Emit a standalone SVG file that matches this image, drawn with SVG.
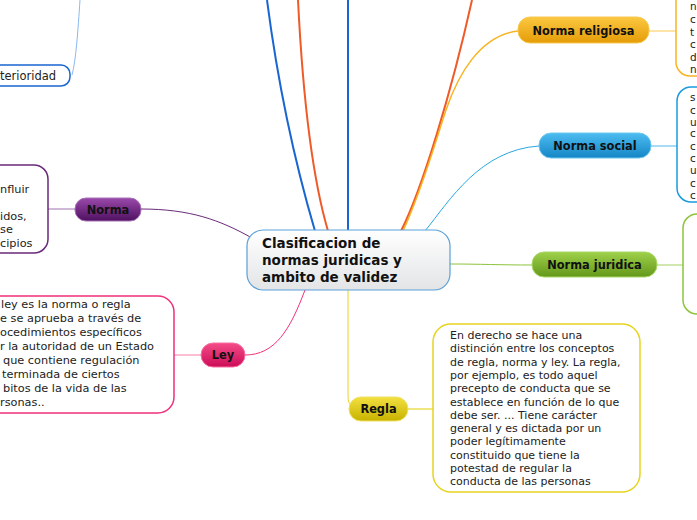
<svg xmlns="http://www.w3.org/2000/svg" width="697" height="520" viewBox="0 0 697 520">
<style>
.t{font-family:"DejaVu Sans",Verdana,sans-serif;font-size:10.5px;fill:#222}
.r{font-size:11px}
.l{font-size:11.3px}
.b{font-family:"DejaVu Sans",Verdana,sans-serif;font-weight:bold;font-size:11.4px;fill:#111;text-anchor:middle}
.c{font-family:"DejaVu Sans",Verdana,sans-serif;font-weight:bold;font-size:13.5px;fill:#111}
.box{fill:#fff;stroke-width:1.5}
.ln{fill:none}
</style>
<defs>
<linearGradient id="gc" x1="0" y1="0" x2="0" y2="1"><stop offset="0" stop-color="#ffffff"/><stop offset="1" stop-color="#e2e4e6"/></linearGradient>
<linearGradient id="go" x1="0" y1="0" x2="0" y2="1"><stop offset="0" stop-color="#fbc840"/><stop offset="1" stop-color="#e59c08"/></linearGradient>
<linearGradient id="gb" x1="0" y1="0" x2="0" y2="1"><stop offset="0" stop-color="#4cbcf0"/><stop offset="1" stop-color="#1486c6"/></linearGradient>
<linearGradient id="gg" x1="0" y1="0" x2="0" y2="1"><stop offset="0" stop-color="#9ed04a"/><stop offset="1" stop-color="#64981a"/></linearGradient>
<linearGradient id="gy" x1="0" y1="0" x2="0" y2="1"><stop offset="0" stop-color="#f2e040"/><stop offset="1" stop-color="#c8b200"/></linearGradient>
<linearGradient id="gp" x1="0" y1="0" x2="0" y2="1"><stop offset="0" stop-color="#f44c88"/><stop offset="1" stop-color="#cc0c58"/></linearGradient>
<linearGradient id="gv" x1="0" y1="0" x2="0" y2="1"><stop offset="0" stop-color="#9a4aaa"/><stop offset="1" stop-color="#4e1060"/></linearGradient>
</defs>
<g id="connectors">
<path class="ln" d="M72,75 C76,60 78,30 80,0" stroke="#8ab8f0" stroke-width="1"/>
<path class="ln" d="M315,231 C300,180 280,100 267,0" stroke="#1a66d0" stroke-width="2"/>
<path class="ln" d="M328,231 C310,170 302,80 298,0" stroke="#f05a28" stroke-width="2"/>
<path class="ln" d="M348,231 L348,0" stroke="#1a66d0" stroke-width="2"/>
<path class="ln" d="M401,231 C422,190 452,90 472,0" stroke="#f05a28" stroke-width="2"/>
<path class="ln" d="M403,231 C422,190 436,140 446,110 C458,75 480,35 518,31" stroke="#f8b420" stroke-width="1.5"/>
<path class="ln" d="M425,231 C450,200 480,150 539,146" stroke="#28a8e0" stroke-width="1"/>
<path class="ln" d="M450,264 C480,264 500,265 532,265" stroke="#8cc43c" stroke-width="1"/>
<path class="ln" d="M252,238 C220,220 190,209 141,209" stroke="#6a2a7a" stroke-width="1"/>
<path class="ln" d="M305,290 C290,330 275,355 245,355" stroke="#f0307a" stroke-width="1"/>
<path class="ln" d="M348,290 L348,395 C348,402 349,404 352,405" stroke="#e8d420" stroke-width="1"/>
<path class="ln" d="M649,31 L676,31" stroke="#fbc850" stroke-width="1"/>
<path class="ln" d="M651,146 L677,146" stroke="#a8dcf4" stroke-width="2"/>
<path class="ln" d="M657,265 L683,265" stroke="#d0e8b0" stroke-width="2"/>
<path class="ln" d="M408,409 L433,409" stroke="#f0e680" stroke-width="2"/>
<path class="ln" d="M48,209 L75,209" stroke="#a070b0" stroke-width="1"/>
<path class="ln" d="M174,355 L201,355" stroke="#f880a8" stroke-width="1"/>
</g>
<g id="node-top-left">
<rect class="box" x="-20" y="65" width="90" height="21" rx="9" stroke="#1a66d0"/>
<text class="t" x="0" y="80" style="font-size:11.5px">terioridad</text>
</g>
<g id="node-center">
<rect x="247" y="230" width="203" height="60" rx="16" fill="url(#gc)" stroke="#5aa0d8" stroke-width="1.2"/>
<text class="c" x="262" y="248">Clasificacion de</text>
<text class="c" x="262" y="265">normas juridicas y</text>
<text class="c" x="262" y="282">ambito de validez</text>
</g>
<g id="node-religiosa">
<rect x="518" y="17" width="131" height="26" rx="12" fill="url(#go)" stroke="#f8c850" stroke-width="1"/>
<text class="b" x="583.5" y="35">Norma religiosa</text>
</g>
<g id="box-religiosa">
<rect class="box" x="676" y="-30" width="60" height="106" rx="14" stroke="#f8b420"/>
<text class="t" x="690" y="10">n</text>
<text class="t" x="690" y="23">c</text>
<text class="t" x="690" y="36">t</text>
<text class="t" x="690" y="48">c</text>
<text class="t" x="690" y="61">d</text>
<text class="t" x="690" y="73">n</text>
</g>
<g id="node-social">
<rect x="539" y="133" width="112" height="25" rx="12" fill="url(#gb)" stroke="#70c8f0" stroke-width="1"/>
<text class="b" x="595" y="150">Norma social</text>
</g>
<g id="box-social">
<rect class="box" x="677" y="87" width="60" height="115" rx="14" stroke="#1a9ae0"/>
<text class="t" x="690" y="101">s</text>
<text class="t" x="690" y="114">c</text>
<text class="t" x="690" y="126">u</text>
<text class="t" x="690" y="137">c</text>
<text class="t" x="690" y="150">c</text>
<text class="t" x="690" y="162">c</text>
<text class="t" x="690" y="174">u</text>
<text class="t" x="690" y="187">c</text>
<text class="t" x="690" y="199">c</text>
</g>
<g id="node-juridica">
<rect x="532" y="252" width="125" height="25" rx="12" fill="url(#gg)" stroke="#a8d868" stroke-width="1"/>
<text class="b" x="594.5" y="269">Norma juridica</text>
</g>
<g id="box-juridica">
<rect class="box" x="683" y="214" width="60" height="100" rx="14" stroke="#8cc43c"/>
</g>
<g id="node-regla">
<rect x="349" y="397" width="59" height="24" rx="12" fill="url(#gy)" stroke="#f0e060" stroke-width="1"/>
<text class="b" x="378.5" y="413">Regla</text>
</g>
<g id="box-regla">
<rect class="box" x="433" y="324" width="207" height="168" rx="18" stroke="#e8d420"/>
<text class="t r" x="450" y="339">En derecho se hace una</text>
<text class="t r" x="450" y="352">distinción entre los conceptos</text>
<text class="t r" x="450" y="366">de regla, norma y ley. La regla,</text>
<text class="t r" x="450" y="379">por ejemplo, es todo aquel</text>
<text class="t r" x="450" y="392">precepto de conducta que se</text>
<text class="t r" x="450" y="406">establece en función de lo que</text>
<text class="t r" x="450" y="419">debe ser. ... Tiene carácter</text>
<text class="t r" x="450" y="432">general y es dictada por un</text>
<text class="t r" x="450" y="445">poder legítimamente</text>
<text class="t r" x="450" y="459">constituido que tiene la</text>
<text class="t r" x="450" y="472">potestad de regular la</text>
<text class="t r" x="450" y="485">conducta de las personas</text>
</g>
<g id="node-ley">
<rect x="201" y="343" width="44" height="24" rx="12" fill="url(#gp)" stroke="#f870a0" stroke-width="1"/>
<text class="b" x="223" y="359">Ley</text>
</g>
<g id="box-ley">
<rect class="box" x="-30" y="296" width="204" height="117" rx="16" stroke="#f0307a"/>
<text class="t l" x="1" y="308">ley es la norma o regla</text>
<text class="t l" x="0" y="322">e se aprueba a través de</text>
<text class="t l" x="0" y="336">ocedimientos específicos</text>
<text class="t l" x="0" y="350">r la autoridad de un Estado</text>
<text class="t l" x="3" y="364">que contiene regulación</text>
<text class="t l" x="2" y="378">terminada de ciertos</text>
<text class="t l" x="3" y="392">bitos de la vida de las</text>
<text class="t l" x="0" y="406">rsonas..</text>
</g>
<g id="node-norma">
<rect x="75" y="198" width="66" height="23" rx="11" fill="url(#gv)" stroke="#a870b8" stroke-width="1"/>
<text class="b" x="108" y="214">Norma</text>
</g>
<g id="box-norma">
<rect class="box" x="-30" y="165" width="78" height="88" rx="14" stroke="#6a2a7a"/>
<text class="t l" x="0" y="193">nfluir</text>
<text class="t l" x="0" y="220">idos,</text>
<text class="t l" x="0" y="233">se</text>
<text class="t l" x="0" y="247">cipios</text>
</g>
</svg>
